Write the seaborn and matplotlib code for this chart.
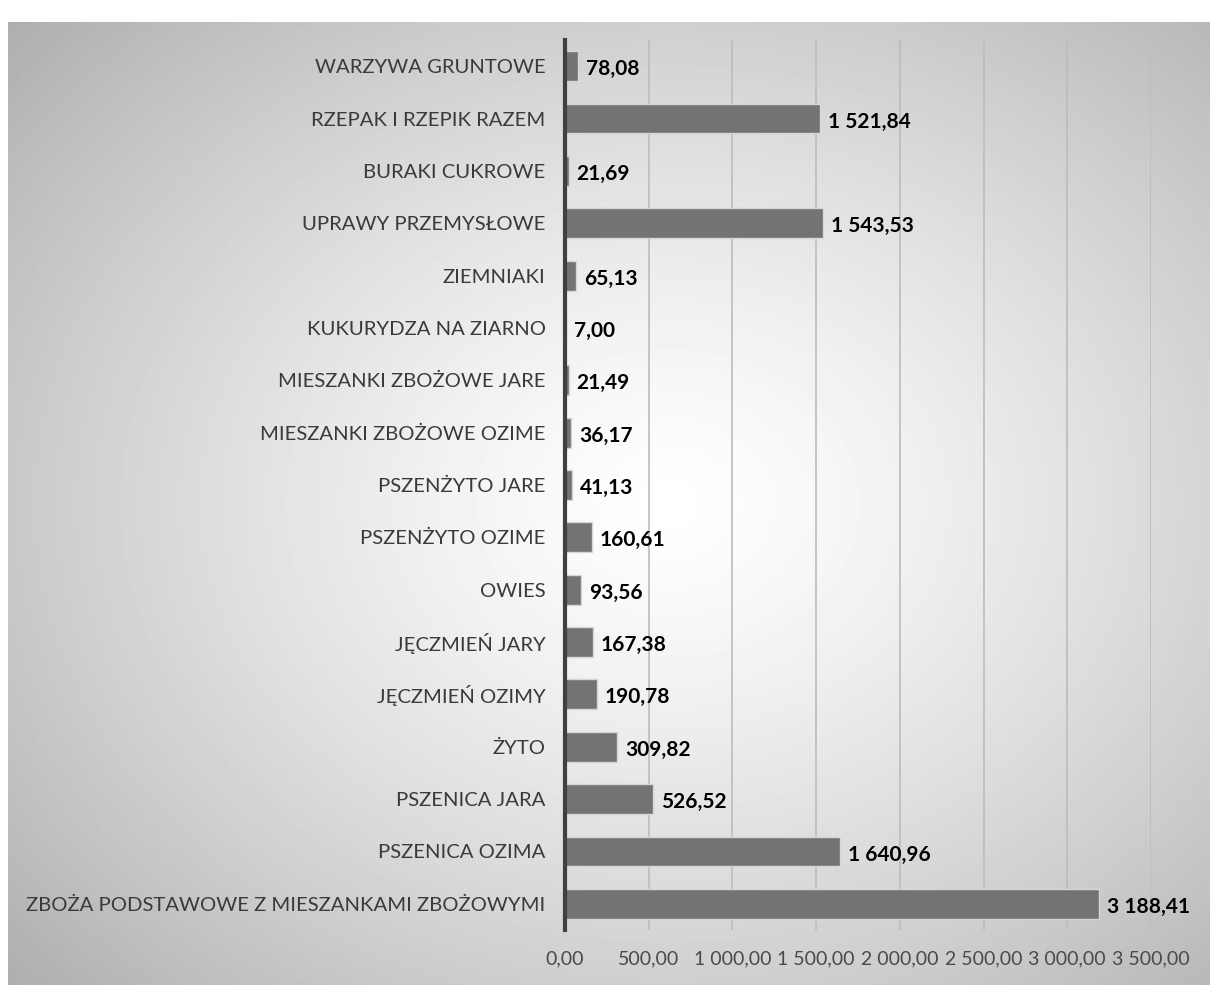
import numpy as np
import pandas as pd
import matplotlib
matplotlib.use("Agg")
import matplotlib.pyplot as plt
from matplotlib.ticker import FuncFormatter
import seaborn as sns

categories = [
    "WARZYWA GRUNTOWE",
    "RZEPAK I RZEPIK RAZEM",
    "BURAKI CUKROWE",
    "UPRAWY PRZEMYSŁOWE",
    "ZIEMNIAKI",
    "KUKURYDZA NA ZIARNO",
    "MIESZANKI ZBOŻOWE JARE",
    "MIESZANKI ZBOŻOWE OZIME",
    "PSZENŻYTO JARE",
    "PSZENŻYTO OZIME",
    "OWIES",
    "JĘCZMIEŃ JARY",
    "JĘCZMIEŃ OZIMY",
    "ŻYTO",
    "PSZENICA JARA",
    "PSZENICA OZIMA",
    "ZBOŻA PODSTAWOWE Z MIESZANKAMI ZBOŻOWYMI",
]
values = [78.08, 1521.84, 21.69, 1543.53, 65.13, 7.00, 21.49, 36.17, 41.13,
          160.61, 93.56, 167.38, 190.78, 309.82, 526.52, 1640.96, 3188.41]
x_ticks = [0, 500, 1000, 1500, 2000, 2500, 3000, 3500]


def pl_number(v):
    s = f"{v:,.2f}"
    return s.replace(",", " ").replace(".", ",")


df = pd.DataFrame({"kategoria": categories, "wartosc": values})

sns.set_style("white")
plt.rcParams["font.family"] = ["Lato", "DejaVu Sans"]

W, H = 1210, 985
fig = plt.figure(figsize=(W / 100, H / 100), dpi=100)

# radial gray gradient behind the chart area
bg = fig.add_axes([8 / W, 0, 1 - 8 / W, 1 - 22 / H], zorder=0)
yy, xx = np.mgrid[0:1:300j, 0:1:300j]
r = np.sqrt(((xx - 0.55) / 0.75) ** 2 + ((yy - 0.5) / 0.75) ** 2)
bg.imshow(np.clip(1 - 0.32 * r ** 1.3, 0, 1), cmap="gray", vmin=0, vmax=1,
          aspect="auto", extent=[0, 1, 0, 1])
bg.set_axis_off()

ax = fig.add_axes([565 / W, 1 - 930 / H, (1151 - 565) / W, 890 / H], zorder=1)
ax.patch.set_alpha(0)

sns.barplot(data=df, x="wartosc", y="kategoria", orient="h", color="#737373",
            width=0.57, edgecolor="#d6d6d6", linewidth=1, saturation=1,
            ax=ax, zorder=3)

for i, v in enumerate(values):
    ax.annotate(pl_number(v), xy=(v, i), xytext=(8, -3), textcoords="offset pixels",
                ha="left", va="center", fontsize=15, fontweight="bold",
                color="black", zorder=4)

ax.set_xlim(0, 3500)
ax.set_ylim(16.5, -0.5)
ax.set_xticks(x_ticks)
ax.xaxis.set_major_formatter(FuncFormatter(lambda v, p: pl_number(v)))
ax.grid(axis="x", color="#bcbcbc", linewidth=1.2, zorder=0)
ax.set_axisbelow(True)
ax.tick_params(axis="x", length=0, pad=15, labelsize=14, labelcolor="#4a4a4a")
ax.tick_params(axis="y", length=0, pad=14, labelsize=14.6, labelcolor="#3a3a3a")
ax.set_xlabel("")
ax.set_ylabel("")
for side in ["top", "right", "bottom"]:
    ax.spines[side].set_visible(False)
ax.spines["left"].set_color("#404040")
ax.spines["left"].set_linewidth(3)
ax.spines["left"].set_zorder(5)

plt.savefig("out.png", dpi=100)
